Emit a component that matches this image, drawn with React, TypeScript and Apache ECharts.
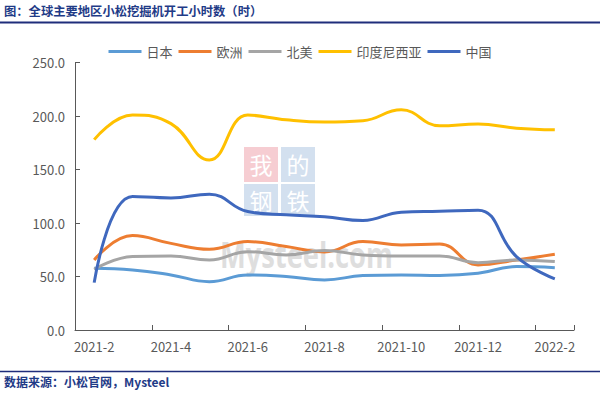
import React, { useEffect, useRef } from "react";
import * as echarts from "echarts";

const months = [
  "2021-2", "2021-3", "2021-4", "2021-5", "2021-6", "2021-7", "2021-8",
  "2021-9", "2021-10", "2021-11", "2021-12", "2022-1", "2022-2",
];
const seriesNames = ["日本", "欧洲", "北美", "印度尼西亚", "中国"];
const japan = [57.7, 56.2, 51.5, 45.2, 51.5, 50.0, 46.8, 50.9, 51.5, 51.0, 53.0, 59.3, 58.3];
const europe = [65.5, 88.3, 81.0, 75.5, 82.7, 78.0, 73.0, 82.7, 79.6, 80.5, 60.9, 65.5, 70.9];
const northAmerica = [56.8, 68.7, 69.3, 65.5, 73.3, 70.2, 74.3, 70.2, 69.3, 69.3, 63.0, 65.5, 64.0];
const indonesia = [178.0, 201.0, 193.0, 159.0, 201.0, 196.6, 194.5, 195.7, 206.0, 191.0, 192.6, 188.8, 187.3];
const china = [44.3, 124.8, 123.5, 127.0, 110.8, 107.7, 106.0, 102.4, 110.2, 111.0, 112.0, 68.7, 47.8];
const colors = ["#5B9BD5", "#ED7D31", "#A5A5A5", "#FFC000", "#3F68BE"];

const titleText = "图：全球主要地区小松挖掘机开工小时数（时）";
const sourceText = "数据来源：小松官网，Mysteel";

const FONT = "'Noto Sans CJK SC', 'Noto Sans', sans-serif";

export default function App() {
  const ref = useRef<HTMLDivElement>(null);
  useEffect(() => {
    if (!ref.current) return;
    const chart = echarts.init(ref.current, undefined, { renderer: "svg" });
    const data = [japan, europe, northAmerica, indonesia, china];
    const axisColor = "#595959";
    const wmChar = (t: string, x: number, y: number) => ({
      type: "text",
      x,
      y,
      style: { text: t, fontSize: 23, fill: "#ffffff", align: "center", verticalAlign: "middle", fontFamily: FONT },
    });
    chart.setOption({
      animation: false,
      backgroundColor: "#ffffff",
      textStyle: { fontFamily: FONT },
      legend: {
        top: 40,
        left: "center",
        icon: "rect",
        itemWidth: 33,
        itemHeight: 3,
        itemGap: 6,
        textStyle: { fontSize: 13, color: axisColor, fontFamily: FONT },
        data: seriesNames,
      },
      grid: { left: 75, right: 26, top: 62.7, bottom: 66 },
      xAxis: {
        type: "category",
        data: months,
        boundaryGap: true,
        axisLine: { lineStyle: { color: axisColor, width: 1 } },
        axisTick: { show: true, inside: true, length: 5, interval: 1, lineStyle: { color: axisColor } },
        axisLabel: { interval: 1, color: axisColor, fontSize: 13, margin: 10, fontFamily: FONT },
        splitLine: { show: false },
      },
      yAxis: {
        type: "value",
        min: 0,
        max: 250,
        interval: 50,
        axisLine: { show: true, lineStyle: { color: axisColor, width: 1 } },
        axisTick: { show: true, inside: true, length: 5, lineStyle: { color: axisColor } },
        axisLabel: {
          color: axisColor,
          fontSize: 13,
          margin: 10,
          fontFamily: FONT,
          formatter: (v: number) => v.toFixed(1),
        },
        splitLine: { show: false },
      },
      series: seriesNames.map((name, i) => ({
        name,
        type: "line",
        data: data[i],
        smooth: 0.45,
        symbol: "none",
        z: 3 + i,
        itemStyle: { color: colors[i] },
        lineStyle: { color: colors[i], width: 3 },
      })),
      graphic: [
        {
          type: "text",
          left: 4,
          top: 5,
          style: { text: titleText, fontSize: 12.3, fontWeight: "bold", fill: "#1F3B87", fontFamily: FONT },
        },
        {
          type: "line",
          shape: { x1: 0, y1: 22.5, x2: 600, y2: 22.5 },
          style: { stroke: "#1F2D7B", lineWidth: 2 },
        },
        {
          type: "line",
          shape: { x1: 0, y1: 371.5, x2: 600, y2: 371.5 },
          style: { stroke: "#1F2D7B", lineWidth: 1.5 },
        },
        {
          type: "text",
          left: 4,
          top: 375,
          style: { text: sourceText, fontSize: 12, fontWeight: "bold", fill: "#1F3B87", fontFamily: FONT },
        },
        {
          type: "group",
          z: 0,
          silent: true,
          children: [
            { type: "rect", shape: { x: 244, y: 147, width: 34, height: 35 }, style: { fill: "#F6CDD2" } },
            { type: "rect", shape: { x: 281, y: 147, width: 34, height: 35 }, style: { fill: "#D3E0EF" } },
            { type: "rect", shape: { x: 244, y: 184, width: 34, height: 32 }, style: { fill: "#D3E0EF" } },
            { type: "rect", shape: { x: 281, y: 184, width: 34, height: 32 }, style: { fill: "#D3E0EF" } },
            wmChar("我", 261, 164),
            wmChar("的", 298, 164),
            wmChar("钢", 261, 200),
            wmChar("铁", 298, 200),
            {
              type: "text",
              x: 220,
              y: 237,
              scaleX: 0.78,
              style: {
                text: "Mysteel.com",
                fontSize: 35,
                fontWeight: "bold",
                fill: "#DEDEDE",
                verticalAlign: "alphabetic",
                fontFamily: "'Open Sans', 'Liberation Sans', sans-serif",
              },
            },
          ],
        },
      ],
    });
    return () => chart.dispose();
  }, []);
  return <div ref={ref} style={{ position: "fixed", left: 0, top: 0, width: 600, height: 396 }} />;
}
